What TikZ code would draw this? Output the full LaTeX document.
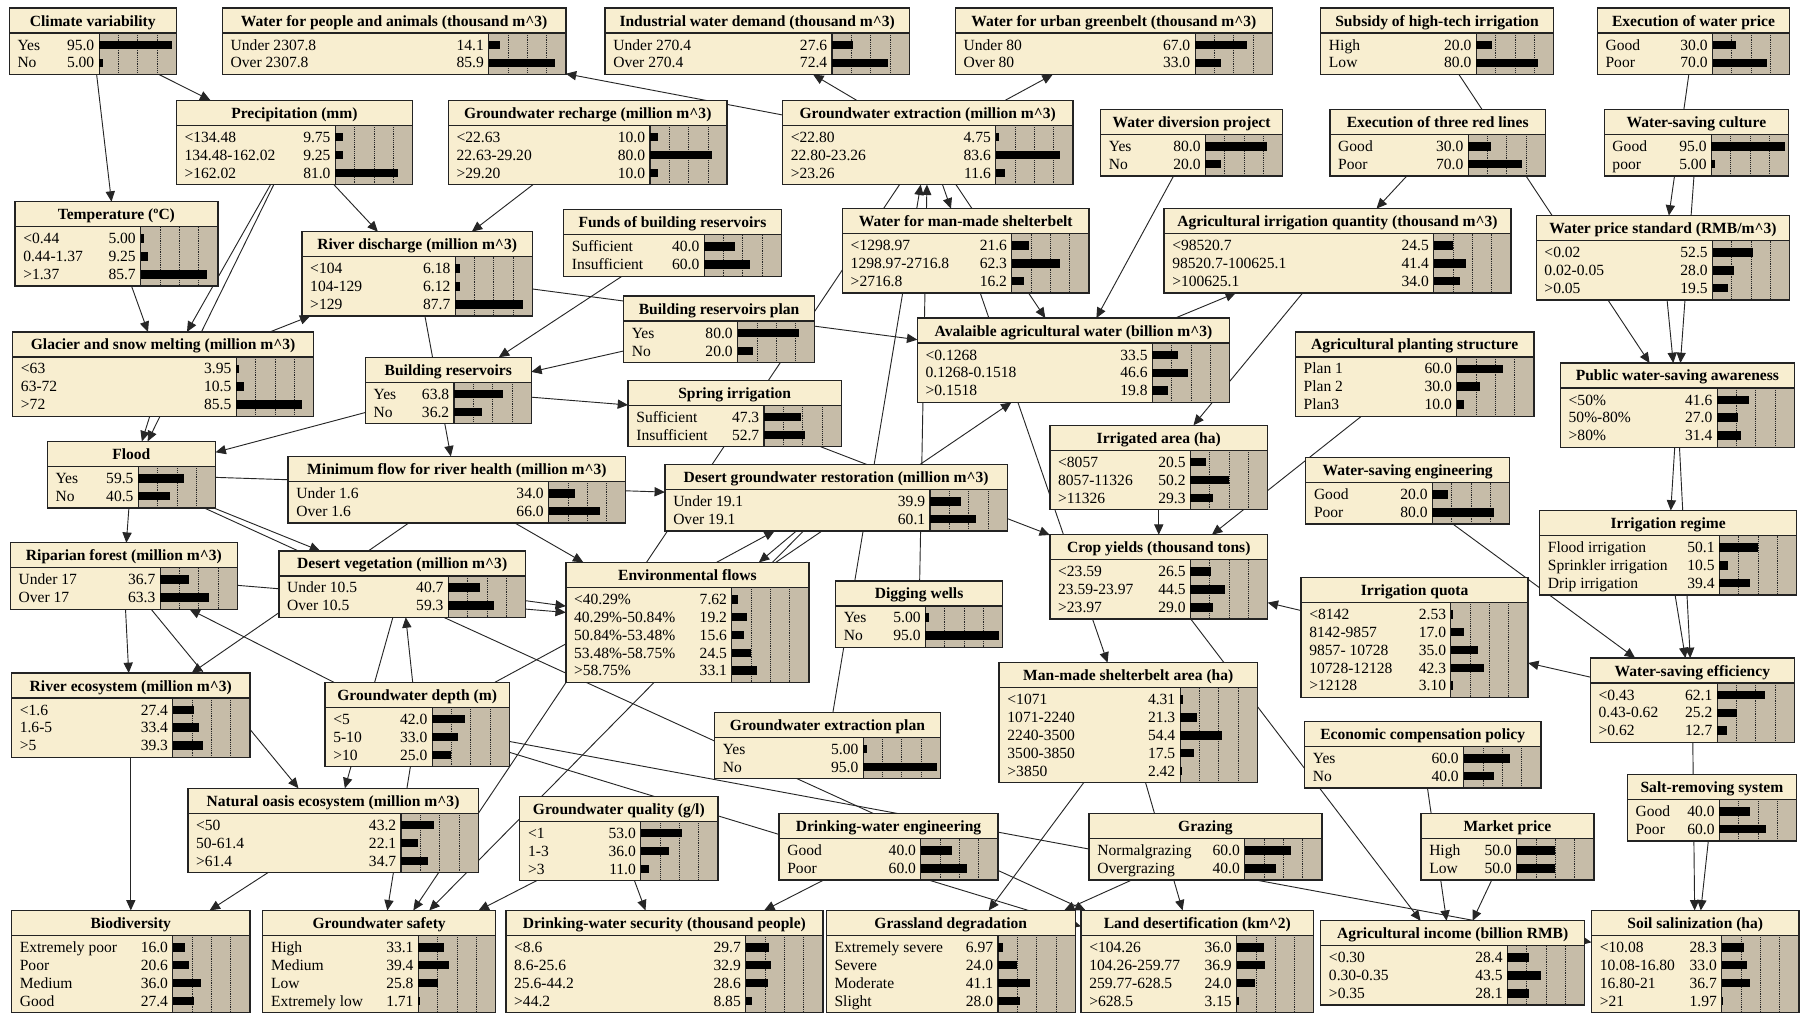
\documentclass[tikz,border=0pt]{standalone}
\usepackage{fontspec}
\setmainfont{Liberation Serif}
\usetikzlibrary{arrows.meta,backgrounds}

\definecolor{knotenfarbe}{RGB}{248,238,208}
\definecolor{balkenfeld}{RGB}{198,188,168}
\definecolor{rahmen}{RGB}{35,35,35}

\newcommand{\bnschrift}{\fontsize{13.5}{15}\selectfont}
\newcount\bnzahl

\tikzset{
  knoten/.style={rectangle, draw=rahmen, line width=1.2pt, fill=knotenfarbe, inner sep=0pt, outer sep=0pt},
  titel/.style={font=\bnschrift\bfseries, anchor=base, inner sep=0pt},
  zustand/.style={font=\bnschrift, anchor=base west, inner sep=0pt},
  wert/.style={font=\bnschrift, anchor=base east, inner sep=0pt},
  raster/.style={black!85, line width=0.6pt, densely dotted},
  kante/.style={draw=black!85, line width=0.8pt, -{Triangle[length=9pt,width=8pt]}}
}

% Netica-Knoten: Name, x, y (linke obere Ecke), Breite, Titel, Zustaende
\newcommand{\bnnode}[6]{%
  \global\bnzahl=0
  \foreach \bnlab/\bnval in {#6}{\global\advance\bnzahl by 1}%
  \pgfmathsetmacro\bnh{26.7+15.5*\the\bnzahl}%
  \node[knoten, minimum width=#4, minimum height=\bnh, anchor=north west] (#1) at (#2,#3) {};
  % Balkenfeld mit Rasterlinien
  \fill[balkenfeld] (#2+#4-67,#3+21.7) rectangle (#2+#4,#3+\bnh);
  \foreach \f in {0.25,0.5,0.75}
    \draw[raster] (#2+#4-67+67*\f,#3+21.7) -- (#2+#4-67+67*\f,#3+\bnh);
  \draw[rahmen, line width=1pt] (#2+#4-67,#3+21.7) -- (#2+#4-67,#3+\bnh);
  % Titelzeile
  \draw[rahmen, line width=1.2pt] (#2,#3+21.7) -- (#2+#4,#3+21.7);
  \node[titel] at (#2+#4/2,#3+15.6) {#5};
  % Zustaende, Werte und Balken
  \foreach \bnlab/\bnval [count=\i from 0] in {#6}{
    \pgfmathsetmacro\ry{#3+32+15.5*\i}
    \node[zustand] at (#2+7,\ry+4.5) {\bnlab};
    \node[wert] at (#2+#4-71,\ry+4.5) {\bnval};
    \fill[black] (#2+#4-67,\ry-3.7) rectangle ++(0.67*\bnval,7.4);
  }
  \draw[rahmen, line width=1.2pt] (#1.north west) rectangle (#1.south east);
}

\begin{document}
\begin{tikzpicture}[x=1pt,y=-1pt]

  \useasboundingbox (0,0) rectangle (1568,880);

  % Obere Reihe
  \bnnode{cv}{8}{7}{145}{Climate variability}{Yes/95.0, No/5.00}
  \bnnode{wpa}{193}{7}{298}{Water for people and animals (thousand m\textasciicircum 3)}{Under 2307.8/14.1, Over 2307.8/85.9}
  \bnnode{iwd}{525}{7}{264}{Industrial water demand (thousand m\textasciicircum 3)}{Under 270.4/27.6, Over 270.4/72.4}
  \bnnode{wug}{829}{7}{275}{Water for urban greenbelt (thousand m\textasciicircum 3)}{Under 80/67.0, Over 80/33.0}
  \bnnode{sub}{1146}{7}{202}{Subsidy of high-tech irrigation}{High/20.0, Low/80.0}
  \bnnode{ewp}{1386}{7}{167}{Execution of water price}{Good/30.0, Poor/70.0}

  % Zweite Reihe
  \bnnode{prec}{153}{87}{205}{Precipitation (mm)}{<134.48/9.75, 134.48-162.02/9.25, >162.02/81.0}
  \bnnode{gr}{389}{87}{242}{Groundwater recharge (million m\textasciicircum 3)}{<22.63/10.0, 22.63-29.20/80.0, >29.20/10.0}
  \bnnode{ge}{679}{87}{252}{Groundwater extraction (million m\textasciicircum 3)}{<22.80/4.75, 22.80-23.26/83.6, >23.26/11.6}
  \bnnode{wdp}{955}{95}{158}{Water diversion project}{Yes/80.0, No/20.0}
  \bnnode{etr}{1154}{95}{187}{Execution of three red lines}{Good/30.0, Poor/70.0}
  \bnnode{wsc}{1392}{95}{160}{Water-saving culture}{Good/95.0, poor/5.00}

  % Dritte Reihe
  \bnnode{temp}{13}{175}{176}{Temperature (ºC)}{<0.44/5.00, 0.44-1.37/9.25, >1.37/85.7}
  \bnnode{fbr}{489}{182}{189}{Funds of building reservoirs}{Sufficient/40.0, Insufficient/60.0}
  \bnnode{rd}{262}{201}{200}{River discharge (million m\textasciicircum 3)}{<104/6.18, 104-129/6.12, >129/87.7}
  \bnnode{wms}{731}{181}{214}{Water for man-made shelterbelt}{<1298.97/21.6, 1298.97-2716.8/62.3, >2716.8/16.2}
  \bnnode{aiq}{1010}{181}{301}{Agricultural irrigation quantity (thousand m\textasciicircum 3)}{<98520.7/24.5, 98520.7-100625.1/41.4, >100625.1/34.0}
  \bnnode{wps}{1333}{187}{220}{Water price standard (RMB/m\textasciicircum 3)}{<0.02/52.5, 0.02-0.05/28.0, >0.05/19.5}

  % Vierte Reihe
  \bnnode{brp}{541}{257}{166}{Building reservoirs plan}{Yes/80.0, No/20.0}
  \bnnode{glac}{11}{288}{261}{Glacier and snow melting (million m\textasciicircum 3)}{<63/3.95, 63-72/10.5, >72/85.5}
  \bnnode{aaw}{796}{276}{271}{Avalaible agricultural water (billion m\textasciicircum 3)}{<0.1268/33.5, 0.1268-0.1518/46.6, >0.1518/19.8}
  \bnnode{aps}{1124}{288}{207}{Agricultural planting structure}{Plan 1/60.0, Plan 2/30.0, Plan3/10.0}
  \bnnode{br}{317}{310}{144}{Building reservoirs}{Yes/63.8, No/36.2}
  \bnnode{si}{545}{330}{185}{Spring irrigation}{Sufficient/47.3, Insufficient/52.7}
  \bnnode{pwsa}{1354}{315}{203}{Public water-saving awareness}{<50\%/41.6, 50\%-80\%/27.0, >80\%/31.4}

  % Fuenfte Reihe
  \bnnode{flood}{41}{383}{146}{Flood}{Yes/59.5, No/40.5}
  \bnnode{ia}{911}{369}{189}{Irrigated area (ha)}{<8057/20.5, 8057-11326/50.2, >11326/29.3}
  \bnnode{mfrh}{250}{396}{293}{Minimum flow for river health (million m\textasciicircum 3)}{Under 1.6/34.0, Over 1.6/66.0}
  \bnnode{dgr}{577}{403}{297}{Desert groundwater restoration (million m\textasciicircum 3)}{Under 19.1/39.9, Over 19.1/60.1}
  \bnnode{wse}{1133}{397}{177}{Water-saving engineering}{Good/20.0, Poor/80.0}
  \bnnode{ir}{1336}{443}{223}{Irrigation regime}{Flood irrigation/50.1, Sprinkler irrigation/10.5, Drip irrigation/39.4}

  % Sechste Reihe
  \bnnode{rf}{9}{471}{197}{Riparian forest (million m\textasciicircum 3)}{Under 17/36.7, Over 17/63.3}
  \bnnode{dv}{242}{478}{214}{Desert vegetation (million m\textasciicircum 3)}{Under 10.5/40.7, Over 10.5/59.3}
  \bnnode{ef}{491}{488}{211}{Environmental flows}{<40.29\%/7.62, 40.29\%-50.84\%/19.2, 50.84\%-53.48\%/15.6, 53.48\%-58.75\%/24.5, >58.75\%/33.1}
  \bnnode{cy}{911}{464}{189}{Crop yields (thousand tons)}{<23.59/26.5, 23.59-23.97/44.5, >23.97/29.0}
  \bnnode{dw}{725}{504}{145}{Digging wells}{Yes/5.00, No/95.0}
  \bnnode{iq}{1129}{501}{197}{Irrigation quota}{<8142/2.53, 8142-9857/17.0, 9857- 10728/35.0, 10728-12128/42.3, >12128/3.10}
  \bnnode{wsf}{1380}{571}{177}{Water-saving efficiency}{<0.43/62.1, 0.43-0.62/25.2, >0.62/12.7}

  % Siebte Reihe
  \bnnode{re}{10}{584}{207}{River ecosystem (million m\textasciicircum 3)}{<1.6/27.4, 1.6-5/33.4, >5/39.3}
  \bnnode{gd}{282}{592}{160}{Groundwater depth (m)}{<5/42.0, 5-10/33.0, >10/25.0}
  \bnnode{msa}{867}{575}{224}{Man-made shelterbelt area (ha)}{<1071/4.31, 1071-2240/21.3, 2240-3500/54.4, 3500-3850/17.5, >3850/2.42}
  \bnnode{gep}{620}{618}{196}{Groundwater extraction plan}{Yes/5.00, No/95.0}
  \bnnode{ecp}{1132}{626}{205}{Economic compensation policy}{Yes/60.0, No/40.0}
  \bnnode{srs}{1412}{672}{147}{Salt-removing system}{Good/40.0, Poor/60.0}

  % Achte Reihe
  \bnnode{noe}{163}{684}{252}{Natural oasis ecosystem (million m\textasciicircum 3)}{<50/43.2, 50-61.4/22.1, >61.4/34.7}
  \bnnode{gq}{451}{691}{172}{Groundwater quality (g/l)}{<1/53.0, 1-3/36.0, >3/11.0}
  \bnnode{dwe}{676}{706}{190}{Drinking-water engineering}{Good/40.0, Poor/60.0}
  \bnnode{graz}{945}{706}{202}{Grazing}{Normalgrazing/60.0, Overgrazing/40.0}
  \bnnode{mp}{1233}{706}{150}{Market price}{High/50.0, Low/50.0}

  % Untere Reihe
  \bnnode{bio}{10}{790}{207}{Biodiversity}{Extremely poor/16.0, Poor/20.6, Medium/36.0, Good/27.4}
  \bnnode{gws}{228}{790}{202}{Groundwater safety}{High/33.1, Medium/39.4, Low/25.8, Extremely low/1.71}
  \bnnode{dws}{439}{790}{275}{Drinking-water security (thousand people)}{<8.6/29.7, 8.6-25.6/32.9, 25.6-44.2/28.6, >44.2/8.85}
  \bnnode{gdeg}{717}{790}{216}{Grassland degradation}{Extremely severe/6.97, Severe/24.0, Moderate/41.1, Slight/28.0}
  \bnnode{ld}{938}{790}{202}{Land desertification (km\textasciicircum 2)}{<104.26/36.0, 104.26-259.77/36.9, 259.77-628.5/24.0, >628.5/3.15}
  \bnnode{ai}{1146}{799}{229}{Agricultural income (billion RMB)}{<0.30/28.4, 0.30-0.35/43.5, >0.35/28.1}
  \bnnode{ss}{1381}{790}{180}{Soil salinization (ha)}{<10.08/28.3, 10.08-16.80/33.0, 16.80-21/36.7, >21/1.97}

  \begin{scope}[on background layer]
    \fill[white] (0,0) rectangle (1568,880);

    % Klima und Abfluss
    \draw[kante] (cv) -- (temp);
    \draw[kante] (cv) -- (prec);
    \draw[kante] (prec) -- (rd);
    \draw[kante] (prec) -- (glac);
    \draw[kante] (prec) -- (flood);
    \draw[kante] (temp) -- (glac);
    \draw[kante] (glac) -- (flood);
    \draw[kante] (glac) -- (rd);
    \draw[kante] (gr) -- (rd);
    \draw[kante] (rd) -- (mfrh);
    \draw[kante] (rd) -- (aaw);
    \draw[kante] (fbr) -- (br);
    \draw[kante] (brp) -- (br);
    \draw[kante] (br) -- (si);
    \draw[kante] (br) -- (flood);

    % Hochwasser und Oekosystem
    \draw[kante] (flood) -- (rf);
    \draw[kante] (flood) -- (dv);
    \draw[kante] (flood) -- (dgr);
    \draw[kante] (flood) -- (ld);
    \draw[kante] (mfrh) -- (re);
    \draw[kante] (mfrh) -- (ef);
    \draw[kante] (rf) -- (re);
    \draw[kante] (rf) -- (noe);
    \draw[kante] (rf) -- (ef);
    \draw[kante] (dv) -- (ef);
    \draw[kante] (dv) -- (noe);
    \draw[kante] (re) -- (bio);
    \draw[kante] (noe) -- (bio);

    % Grundwasser
    \draw[kante] (gd) -- (rf);
    \draw[kante] (gd) -- (dv);
    \draw[kante] (gd) -- (dgr);
    \draw[kante] (gd) -- (gws);
    \draw[kante] (gd) -- (ld);
    \draw[kante] (gd) -- (ss);
    \draw[kante] (ge) -- (wpa);
    \draw[kante] (ge) -- (iwd);
    \draw[kante] (ge) -- (wug);
    \draw[kante] (ge) -- (wms);
    \draw[kante] (ge) -- (aaw);
    \draw[kante] (ge) -- (gws);
    \draw[kante] (dw) -- (ge);
    \draw[kante] (gep) -- (ge);
    \draw[kante] (dgr) -- (ef);
    \draw[kante] (dgr) -- (gws);
    \draw[kante] (ef) -- (aaw);
    \draw[kante] (gq) -- (gws);
    \draw[kante] (gq) -- (dws);
    \draw[kante] (dwe) -- (dws);

    % Landwirtschaft
    \draw[kante] (wms) -- (msa);
    \draw[kante] (si) -- (cy);
    \draw[kante] (wdp) -- (aaw);
    \draw[kante] (aaw) -- (aiq);
    \draw[kante] (etr) -- (aiq);
    \draw[kante] (aiq) -- (ia);
    \draw[kante] (ia) -- (cy);
    \draw[kante] (aps) -- (cy);
    \draw[kante] (iq) -- (cy);
    \draw[kante] (cy) -- (ai);
    \draw[kante] (ecp) -- (ai);
    \draw[kante] (mp) -- (ai);
    \draw[kante] (msa) -- (gdeg);
    \draw[kante] (msa) -- (ld);
    \draw[kante] (graz) -- (gdeg);

    % Wassersparen
    \draw[kante] (sub) -- (pwsa);
    \draw[kante] (ewp) -- (wps);
    \draw[kante] (wsc) -- (pwsa);
    \draw[kante] (wps) -- (pwsa);
    \draw[kante] (pwsa) -- (ir);
    \draw[kante] (pwsa) -- (wsf);
    \draw[kante] (ir) -- (wsf);
    \draw[kante] (wse) -- (wsf);
    \draw[kante] (wsf) -- (iq);
    \draw[kante] (wsf) -- (ss);
    \draw[kante] (srs) -- (ss);
  \end{scope}

\end{tikzpicture}
\end{document}
